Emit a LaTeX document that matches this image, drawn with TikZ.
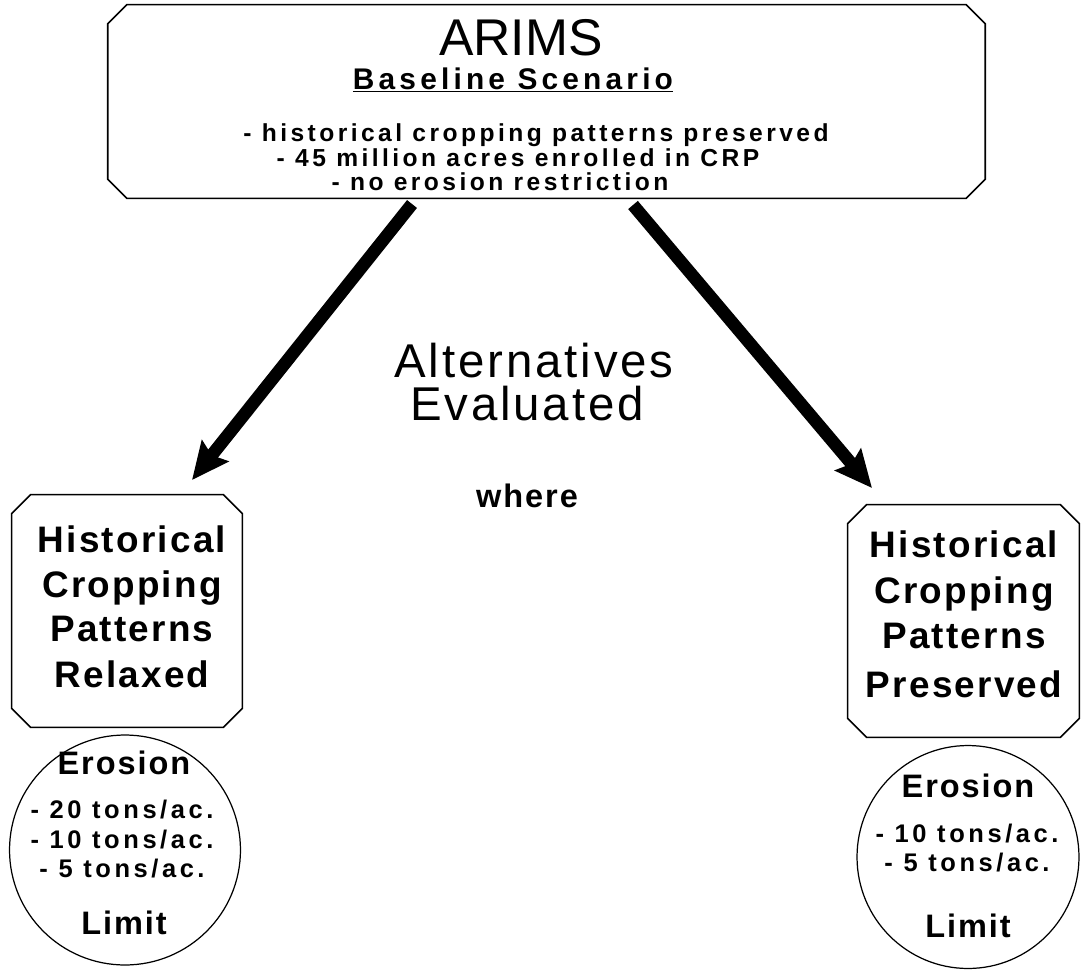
\documentclass[tikz,border=0pt]{standalone}
\usepackage{fontspec}
\setmainfont{Liberation Sans}
\newfontfamily\trk[LetterSpace=6]{Liberation Sans}
\newfontfamily\wtrk[LetterSpace=14]{Liberation Sans}
\usetikzlibrary{shapes,arrows.meta}

\begin{document}
\begin{tikzpicture}[x=0.02cm,y=-0.02cm,
		box/.style={rectangle,inner sep=0pt},
		oval/.style={draw,line width=0.7pt,ellipse,inner sep=0pt},
		txt/.style={anchor=base,inner sep=0pt},
		big/.style={line width=7.2pt,-{Stealth[length=21pt,width=19pt,inset=3pt]}}]
		\useasboundingbox (0,0) rectangle (1089,970);
		% scenario box
		\node[box,minimum width=17.54cm,minimum height=3.86cm] (base) at (546.5,101.5) {};
		\node[txt,font=\fontsize{29.4}{30}\selectfont] (arims) at (521,55) {ARIMS};
		\node[txt,font=\wtrk\bfseries\fontsize{17}{18}\selectfont] (scen) at (513,89) {\underline{Baseline Scenario}};
		\foreach \t/\x/\y in {- historical cropping patterns preserved/536/141,- 45 million acres enrolled in CRP/518/166,- no erosion restriction/500/190}
			\node[txt,font=\wtrk\bfseries\fontsize{14}{15}\selectfont] (b\y) at (\x,\y) {\t};
		% middle text
		\node[txt,font=\trk\fontsize{27}{28}\selectfont] (alt) at (534,377) {Alternatives};
		\node[txt,font=\trk\fontsize{27}{28}\selectfont] (eval) at (527,420) {Evaluated};
		\node[txt,font=\trk\bfseries\fontsize{18.5}{19}\selectfont] (where) at (527,507) {where};
		% alternatives
		\node[box,minimum width=4.6cm,minimum height=4.64cm] (relaxed) at (127,611) {};
		\node[box,minimum width=4.62cm,minimum height=4.64cm] (preserved) at (963.5,621) {};
		\foreach \t/\y in {Historical/552,Cropping/597,Patterns/641,Relaxed/687}
			\node[txt,font=\trk\bfseries\fontsize{21}{21}\selectfont] (r\y) at (132,\y) {\t};
		\foreach \t/\y in {Historical/557,Cropping/603,Patterns/648,Preserved/697}
			\node[txt,font=\trk\bfseries\fontsize{21}{21}\selectfont] (p\y) at (964,\y) {\t};
		\foreach \n in {base,relaxed,preserved}
			\draw[line width=0.9pt] ([xshift=0.38cm]\n.north west) -- ([xshift=-0.38cm]\n.north east)
				-- ([yshift=-0.38cm]\n.north east) -- ([yshift=0.38cm]\n.south east)
				-- ([xshift=-0.38cm]\n.south east) -- ([xshift=0.38cm]\n.south west)
				-- ([yshift=0.38cm]\n.south west) -- ([yshift=-0.38cm]\n.north west) -- cycle;
		% erosion limits
		\node[oval,minimum width=4.62cm,minimum height=4.6cm] (limr) at (125,850) {};
		\node[oval,minimum width=4.44cm,minimum height=4.46cm] (limp) at (968,857) {};
		\node[txt,font=\trk\bfseries\fontsize{18.5}{19}\selectfont] (er1) at (124,774) {Erosion};
		\node[txt,font=\trk\bfseries\fontsize{18.5}{19}\selectfont] (er2) at (968,797) {Erosion};
		\foreach \t/\y in {{- 20 tons/ac.}/818,{- 10 tons/ac.}/848,{- 5 tons/ac.}/877}
			\node[txt,font=\wtrk\bfseries\fontsize{14.5}{15}\selectfont] (t\y) at (122,\y) {\t};
		\foreach \t/\y in {{- 10 tons/ac.}/842,{- 5 tons/ac.}/871}
			\node[txt,font=\wtrk\bfseries\fontsize{14.5}{15}\selectfont] (u\y) at (967,\y) {\t};
		\node[txt,font=\trk\bfseries\fontsize{18.5}{19}\selectfont] (lim1) at (124,934) {Limit};
		\node[txt,font=\trk\bfseries\fontsize{18.5}{19}\selectfont] (lim2) at (968,937) {Limit};
		% arrows
		\coordinate (ls) at (412,204);
		\coordinate (le) at (192,480);
		\coordinate (rs) at (633,205);
		\coordinate (re) at (872,488);
		\draw[big] (ls) -- (le);
		\draw[big] (rs) -- (re);
	\end{tikzpicture}
\end{document}
